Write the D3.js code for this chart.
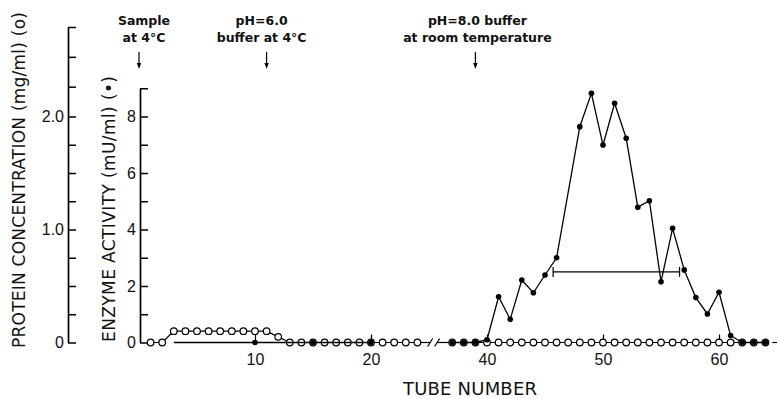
<!DOCTYPE html>
<html>
<head>
<meta charset="utf-8">
<script src="https://cdn.jsdelivr.net/npm/d3@7"></script>
<style>
  body { margin: 0; background: #fff; }
  svg { display: block; font-family: "DejaVu Sans", sans-serif; }
</style>
</head>
<body>
<svg id="chart" width="778" height="399"></svg>
<script>
// tubes on the left of the axis break
const seg1Tubes = [1, 2, 3, 4, 5, 6, 7, 8, 9, 10, 11, 12, 13, 14, 15, 16, 17, 18, 19, 20, 21, 22, 23, 24];
const proteinSeg1 = [0, 0, 0.1, 0.1, 0.1, 0.1, 0.1, 0.1, 0.1, 0.1, 0.1, 0.05, 0, 0, 0, 0, 0, 0, 0, 0, 0, 0, 0, 0];
const enzymeTubes1 = [3, 10, 15, 20];
const enzymeSeg1 = [0, 0, 0, 0];
const enzymeMarked1 = [false, true, true, true];

// tubes on the right of the break
const seg2Tubes = [37, 38, 39, 40, 41, 42, 43, 44, 45, 46, 47, 48, 49, 50, 51, 52, 53, 54, 55, 56, 57, 58, 59, 60, 61, 62, 63, 64];
const proteinSeg2 = [0, 0, 0, 0, 0, 0, 0, 0, 0, 0, 0, 0, 0, 0, 0, 0, 0, 0, 0, 0, 0, 0, 0, 0, 0, 0, 0, 0];
const enzymeTubes2 = [37, 38, 39, 40, 41, 42, 43, 44, 45, 46, 48, 49, 50, 51, 52, 53, 54, 55, 56, 57, 58, 59, 60, 61, 62, 63, 64];
const enzymeSeg2 = [0, 0, 0, 0.1, 1.62, 0.82, 2.21, 1.76, 2.39, 3.0, 7.64, 8.82, 6.99, 8.47, 7.23, 4.79, 5.02, 2.15, 4.04, 2.57, 1.59, 1.01, 1.78, 0.25, 0, 0, 0];

// pooled fractions bar (enzyme units)
const poolTubes = [45.7, 56.6];
const poolLevel = 2.5;

const xTicks = [10, 20, 40, 50, 60];
const proteinTicks = [0, 0.25, 0.5, 0.75, 1, 1.25, 1.5, 1.75, 2, 2.25, 2.5, 2.75];
const proteinLabelled = [0, 1, 2];
const enzymeTicks = [0, 1, 2, 3, 4, 5, 6, 7, 8, 9];
const enzymeLabelled = [0, 2, 4, 6, 8];

const notes = [
  { tube: 0, lines: ["Sample", "at 4°C"], dx: 5 },
  { tube: 11, lines: ["pH=6.0", "buffer at 4°C"], dx: -5 },
  { tube: 39, lines: ["pH=8.0 buffer", "at room temperature"], dx: 2 }
];

const breakAfter = 24;   // last tube before the break
const breakGap = 10;     // tubes squeezed out by the break

const svg = d3.select("#chart");

const xv = d3.scaleLinear().domain([0, 54]).range([139, 765.4]);
const toV = t => t > breakAfter ? t - breakGap : t;
const x = t => xv(toV(t));

// scan is a bit stretched above 2.0, so piecewise
const yP = d3.scaleLinear().domain([0, 2, 2.75]).range([342.5, 116.5, 27]);
const yE = d3.scaleLinear().domain([0, 9]).range([342.5, 88.25]);

// protein axis
const pAxis = d3.axisLeft(yP)
  .tickValues(proteinTicks)
  .tickSizeInner(-8).tickSizeOuter(0).tickPadding(4)
  .tickFormat(d => proteinLabelled.includes(d) ? (d === 0 ? "0" : d3.format(".1f")(d)) : "");
svg.append("g")
  .attr("transform", "translate(68,0)")
  .call(pAxis)
  .call(g => {
    g.select(".domain").attr("stroke-width", 1.7);
    g.selectAll(".tick line").attr("stroke-width", 1.5);
    g.selectAll(".tick text").attr("font-size", 16).attr("fill", "#111").attr("font-family", null);
  });

// enzyme axis
const eAxis = d3.axisLeft(yE)
  .tickValues(enzymeTicks)
  .tickSizeInner(-8).tickSizeOuter(0).tickPadding(4)
  .tickFormat(d => enzymeLabelled.includes(d) ? d : "");
svg.append("g")
  .attr("transform", "translate(140,0)")
  .call(eAxis)
  .call(g => {
    g.select(".domain").attr("stroke-width", 1.7);
    g.selectAll(".tick line").attr("stroke-width", 1.5);
    g.selectAll(".tick text").attr("font-size", 16).attr("fill", "#111").attr("font-family", null);
  });

// tube axis: no line, just short ticks poking up from the baseline
const tAxis = d3.axisBottom(xv)
  .tickValues(xTicks.map(toV))
  .tickSizeInner(-8).tickSizeOuter(0).tickPadding(11)
  .tickFormat(v => v > breakAfter ? v + breakGap : v);
svg.append("g")
  .attr("transform", `translate(0,${yP(0)})`)
  .call(tAxis)
  .call(g => {
    g.select(".domain").remove();
    g.selectAll(".tick line").attr("stroke-width", 1.2);
    g.selectAll(".tick text").attr("font-size", 16).attr("fill", "#111").attr("font-family", null);
  });

// axis break and the stub after the last tube
const base = yP(0);
const brk = svg.append("g").attr("stroke", "#000").attr("stroke-width", 1.2).attr("fill", "none");
brk.append("line").attr("x1", x(breakAfter)).attr("x2", xv(25.1)).attr("y1", base).attr("y2", base);
brk.append("line").attr("x1", xv(25.7)).attr("x2", x(seg2Tubes[0])).attr("y1", base).attr("y2", base);
[25.1, 25.7].forEach(v => {
  brk.append("line")
    .attr("x1", xv(v) - 2.5).attr("y1", base + 4)
    .attr("x2", xv(v) + 2.5).attr("y2", base - 4);
});
brk.append("line").attr("x1", xv(54.6)).attr("x2", xv(55)).attr("y1", base).attr("y2", base);

const line = d3.line().x(d => x(d.t)).y(d => d.y);

function drawProtein(tubes, vals) {
  const pts = tubes.map((t, i) => ({ t: t, y: yP(vals[i]) }));
  svg.append("path").datum(pts)
    .attr("d", line).attr("fill", "none").attr("stroke", "#000").attr("stroke-width", 1.2);
  svg.append("g").selectAll("circle").data(pts).enter().append("circle")
    .attr("cx", d => x(d.t)).attr("cy", d => d.y).attr("r", 3.3)
    .attr("fill", "#fff").attr("stroke", "#000").attr("stroke-width", 1.2);
}

function drawEnzyme(tubes, vals, marked) {
  const pts = tubes.map((t, i) => ({ t: t, y: yE(vals[i]), m: marked ? marked[i] : true }));
  svg.append("path").datum(pts)
    .attr("d", line).attr("fill", "none").attr("stroke", "#000").attr("stroke-width", 1.3);
  svg.append("g").selectAll("circle").data(pts.filter(d => d.m)).enter().append("circle")
    .attr("cx", d => x(d.t)).attr("cy", d => d.y).attr("r", 2.8)
    .attr("fill", "#000");
}

drawProtein(seg1Tubes, proteinSeg1);
drawProtein(seg2Tubes, proteinSeg2);
drawEnzyme(enzymeTubes1, enzymeSeg1, enzymeMarked1);
drawEnzyme(enzymeTubes2, enzymeSeg2);

// pooled fractions
const py = yE(poolLevel);
const pool = svg.append("g").attr("stroke", "#000").attr("stroke-width", 1.2);
pool.append("line").attr("x1", x(poolTubes[0])).attr("x2", x(poolTubes[1])).attr("y1", py).attr("y2", py);
poolTubes.forEach(t => {
  pool.append("line").attr("x1", x(t)).attr("x2", x(t)).attr("y1", py - 5).attr("y2", py + 5);
});

// buffer change notes with arrows
const note = svg.append("g").selectAll("g").data(notes).enter().append("g")
  .attr("transform", d => `translate(${x(d.tube)},0)`);
note.each(function(d) {
  const g = d3.select(this);
  d.lines.forEach((s, i) => {
    g.append("text")
      .attr("x", d.dx).attr("y", 25 + i * 16.5)
      .attr("text-anchor", "middle")
      .attr("font-size", 12.5).attr("font-weight", "bold").attr("fill", "#111")
      .text(s);
  });
  g.append("line").attr("x1", 0).attr("x2", 0).attr("y1", 52).attr("y2", 64)
    .attr("stroke", "#000").attr("stroke-width", 1.2);
  g.append("path").attr("d", "M-2.2,63L2.2,63L0,69Z").attr("fill", "#000");
});

// titles
svg.append("text")
  .attr("transform", "translate(25,180) rotate(-90)")
  .attr("text-anchor", "middle").attr("font-size", 17).attr("fill", "#111")
  .attr("textLength", 336).attr("lengthAdjust", "spacing")
  .text("PROTEIN CONCENTRATION (mg/ml) (o)");
svg.append("text")
  .attr("transform", "translate(115,209) rotate(-90)")
  .attr("text-anchor", "middle").attr("font-size", 17).attr("fill", "#111")
  .attr("textLength", 266).attr("lengthAdjust", "spacing")
  .text("ENZYME ACTIVITY (mU/ml) (•)");
svg.append("text")
  .attr("x", 470).attr("y", 395)
  .attr("text-anchor", "middle").attr("font-size", 18).attr("fill", "#111")
  .attr("textLength", 134).attr("lengthAdjust", "spacing")
  .text("TUBE NUMBER");
</script>
</body>
</html>
